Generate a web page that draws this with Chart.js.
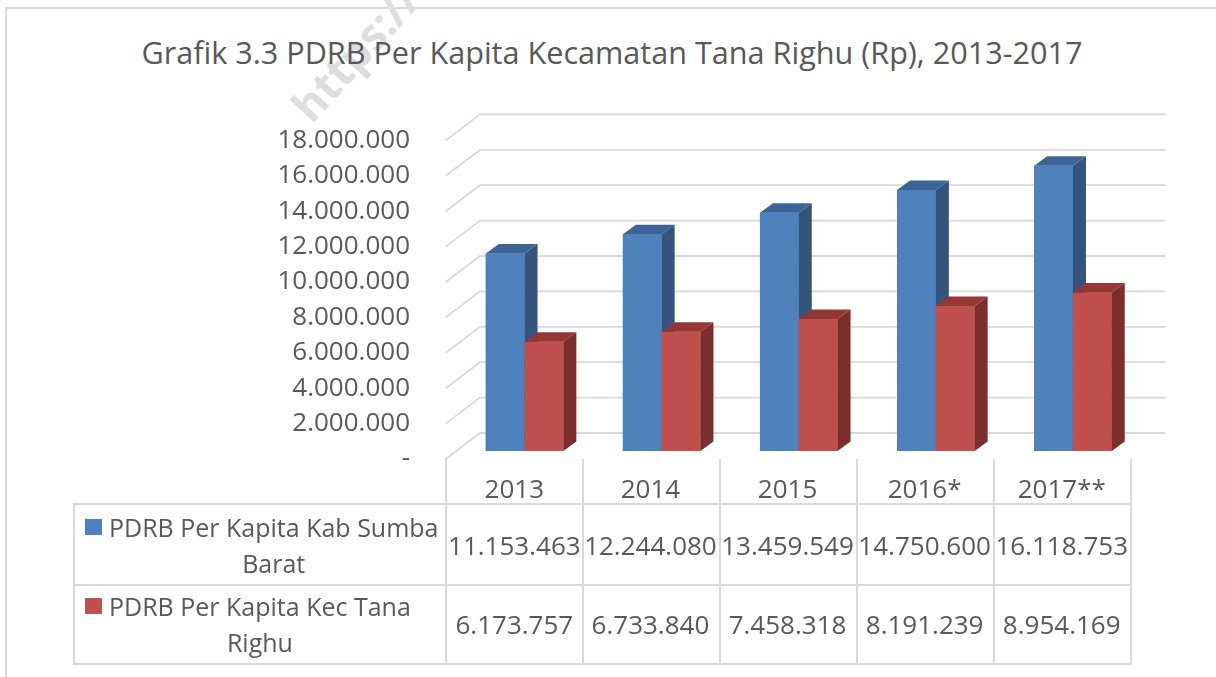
<!DOCTYPE html>
<html>
<head>
<meta charset="utf-8">
<script src="https://cdn.jsdelivr.net/npm/chart.js@4.4.1/dist/chart.umd.min.js"></script>
<style>
  html, body { margin: 0; padding: 0; background: #fff; overflow: hidden; }
  #wrap { position: relative; width: 1216px; height: 677px; overflow: hidden; }
  #frame { position: absolute; left: 5px; top: 7px; width: 1300px; height: 800px;
           border: 2px solid #d9d9d9; box-sizing: border-box; }
  #mark { position: absolute; left: 318px; top: 80px; font: bold 44px "Open Sans", sans-serif;
          color: #dedede; line-height: 50px; white-space: nowrap;
          transform: rotate(-48deg); transform-origin: 0 100%; }
  #title { position: absolute; left: 0; top: 32px; width: 1224px; text-align: center;
           font: 30.6px "Open Sans", sans-serif; line-height: 40px; color: #595959; white-space: nowrap; }
  #chart { position: absolute; left: 0; top: 0; }
  #table { position: absolute; left: 0; top: 0; font-family: "Open Sans", sans-serif;
           font-size: 26px; color: #595959; }
  .cell { position: absolute; box-sizing: border-box; display: flex; align-items: center;
          justify-content: center; text-align: center; white-space: nowrap; }
  .key { flex: none; width: 17px; height: 16px; margin: 10px 7px 0 0; }
  .name { line-height: 36px; text-align: center; font-size: 25px; }
</style>
</head>
<body>
<div id="wrap">
  <div id="frame"></div>
  <div id="mark">https://</div>
  <div id="title">Grafik 3.3 PDRB Per Kapita Kecamatan Tana Righu (Rp), 2013-2017</div>
  <canvas id="chart" width="1216" height="677"></canvas>
  <div id="table"></div>
</div>
<script>
const categories = ["2013", "2014", "2015", "2016*", "2017**"];
const seriesNames = ["PDRB Per Kapita Kab Sumba Barat", "PDRB Per Kapita Kec Tana Righu"];
const kabSumbaBarat = [11153463, 12244080, 13459549, 14750600, 16118753];
const kecTanaRighu = [6173757, 6733840, 7458318, 8191239, 8954169];
const yTicks = [0, 2000000, 4000000, 6000000, 8000000, 10000000, 12000000, 14000000, 16000000, 18000000];

const frontColors = ["#4f81bd", "#c0504d"];
const sideColors = ["#34547e", "#7c2e2d"];
const topColors = ["#3c6596", "#953735"];
const gridColor = "#d9d9d9";

// offsets of the 3D planes relative to the plane the bars stand on
const FRONT = { dx: -10.2, dy: 8 };
const BACK = { dx: 24, dy: -18 };
const BAR_DEPTH = { dx: 13, dy: -9.5 };

function fmt(v) {
  if (v === 0) return "-";
  return String(v).replace(/\B(?=(\d{3})+(?!\d))/g, ".");
}

function poly(ctx, pts, color) {
  ctx.beginPath();
  ctx.moveTo(pts[0][0], pts[0][1]);
  for (let i = 1; i < pts.length; i++) ctx.lineTo(pts[i][0], pts[i][1]);
  ctx.closePath();
  ctx.fillStyle = color;
  ctx.fill();
}

const bar3d = {
  id: "bar3d",
  beforeDatasetsDraw(chart) {
    const ctx = chart.ctx;
    const area = chart.chartArea;
    const y = chart.scales.y;
    ctx.save();
    ctx.strokeStyle = gridColor;
    ctx.lineWidth = 1.8;
    yTicks.forEach(v => {
      const py = y.getPixelForValue(v);
      ctx.beginPath();
      ctx.moveTo(area.left + FRONT.dx, py + FRONT.dy);
      ctx.lineTo(area.left + BACK.dx, py + BACK.dy);
      ctx.lineTo(area.right + BACK.dx, py + BACK.dy);
      ctx.stroke();
    });
    ctx.restore();
  },
  afterDatasetsDraw(chart) {
    const ctx = chart.ctx;
    const metas = [chart.getDatasetMeta(0), chart.getDatasetMeta(1)];
    ctx.save();
    for (let i = 0; i < categories.length; i++) {
      metas.forEach((meta, d) => {
        const b = meta.data[i].getProps(["x", "y", "base", "width"], true);
        const l = b.x - b.width / 2, r = b.x + b.width / 2;
        const dx = BAR_DEPTH.dx, dy = BAR_DEPTH.dy;
        poly(ctx, [[l, b.y], [r, b.y], [r, b.base], [l, b.base]], frontColors[d]);
        poly(ctx, [[r, b.y], [r + dx, b.y + dy], [r + dx, b.base + dy], [r, b.base]], sideColors[d]);
        poly(ctx, [[l, b.y], [r, b.y], [r + dx, b.y + dy], [l + dx, b.y + dy]], topColors[d]);
      });
    }
    ctx.restore();
  }
};

const chart = new Chart(document.getElementById("chart"), {
  type: "bar",
  data: {
    labels: categories,
    datasets: [
      { label: seriesNames[0], data: kabSumbaBarat, backgroundColor: frontColors[0] },
      { label: seriesNames[1], data: kecTanaRighu, backgroundColor: frontColors[1] }
    ]
  },
  options: {
    responsive: false,
    devicePixelRatio: 1,
    animation: false,
    categoryPercentage: 0.566,
    barPercentage: 1,
    layout: { padding: { left: 0, right: 74.5, top: 132.4, bottom: 226 } },
    plugins: {
      legend: { display: false },
      tooltip: { enabled: false },
      title: { display: false }
    },
    scales: {
      x: { display: false },
      y: {
        min: 0,
        max: 18000000,
        afterFit(scale) { scale.width = 456; },
        afterBuildTicks(scale) { scale.ticks = yTicks.map(v => ({ value: v })); },
        grid: { display: false, drawTicks: false },
        border: { display: false },
        ticks: {
          padding: 46,
          labelOffset: 8,
          color: "#595959",
          font: { family: "Open Sans", size: 26 },
          callback: v => fmt(v)
        }
      }
    }
  },
  plugins: [bar3d]
});

// data table under the plot, aligned to the front edge of the floor
function buildTable() {
  const area = chart.chartArea;
  const table = document.getElementById("table");
  const colW = (area.right - area.left) / categories.length;
  const x0 = area.left + FRONT.dx;
  const tableLeft = 73;
  const headTop = area.bottom + FRONT.dy;
  const rowTops = [504, 585, 664];
  const line = "2px solid " + gridColor;

  function cell(left, top, w, h, html, borders, extra) {
    const c = document.createElement("div");
    c.className = "cell";
    c.style.left = left + "px";
    c.style.top = top + "px";
    c.style.width = w + "px";
    c.style.height = h + "px";
    borders.split("").forEach(s => {
      const side = { t: "Top", r: "Right", b: "Bottom", l: "Left" }[s];
      c.style["border" + side] = line;
    });
    if (extra) Object.assign(c.style, extra);
    c.innerHTML = html;
    table.appendChild(c);
    return c;
  }

  categories.forEach((c, i) => {
    cell(x0 + i * colW - 1, headTop, colW + 2, rowTops[0] - headTop + 1, c, i === 0 ? "lr" : "r",
      { alignItems: "flex-end", lineHeight: "30px", paddingBottom: "2px" });
  });

  const values = [kabSumbaBarat, kecTanaRighu];
  seriesNames.forEach((name, s) => {
    const top = rowTops[s] - 1;
    const h = rowTops[s + 1] - rowTops[s] + 2;
    const cut = name.lastIndexOf(" ");
    const label = '<div style="display:flex;align-items:flex-start"><span class="key" style="background:' +
      frontColors[s] + '"></span><div class="name">' +
      name.slice(0, cut) + "<br>" + name.slice(cut + 1) + "</div></div>";
    cell(tableLeft, top, x0 - tableLeft + 1, h, label, s === 0 ? "tlb" : "lb",
      { justifyContent: "flex-start", paddingLeft: "10px" });
    values[s].forEach((v, i) => {
      cell(x0 + i * colW - 1, top, colW + 2, h, fmt(v), s === 0 ? "trb" + (i === 0 ? "l" : "") : "rb" + (i === 0 ? "l" : ""));
    });
  });
}
buildTable();
</script>
</body>
</html>
